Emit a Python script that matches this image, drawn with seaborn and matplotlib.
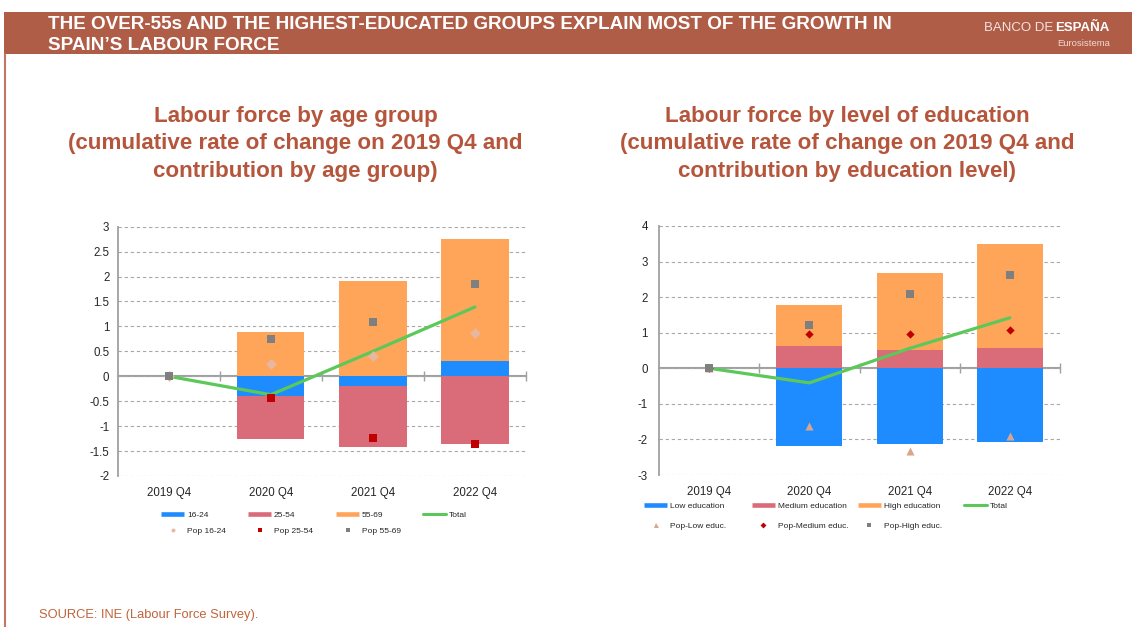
import numpy as np
import pandas as pd
import matplotlib
matplotlib.use("Agg")
import matplotlib.pyplot as plt
import seaborn as sns
from matplotlib.lines import Line2D
from matplotlib.patches import Rectangle
from matplotlib import font_manager

# ---------------- data ----------------
quarters = ["2019 Q4", "2020 Q4", "2021 Q4", "2022 Q4"]

# Left panel: contributions by age group (pp)
age_16_24 = [0.0, -0.40, -0.19, 0.30]
age_25_54 = [0.0, -0.86, -1.23, -1.36]
age_55_69 = [0.0, 0.89, 1.92, 2.45]
age_total = [0.0, -0.37, 0.50, 1.39]
pop_16_24 = [0.0, 0.25, 0.40, 0.87]
pop_25_54 = [0.0, -0.44, -1.23, -1.36]
pop_55_69 = [0.0, 0.74, 1.08, 1.85]

# Right panel: contributions by education level (pp)
edu_low = [0.0, -2.19, -2.12, -2.07]
edu_medium = [0.0, 0.63, 0.51, 0.58]
edu_high = [0.0, 1.15, 2.17, 2.90]
edu_total = [0.0, -0.41, 0.56, 1.42]
pop_low = [0.0, -1.63, -2.33, -1.91]
pop_medium = [0.0, 0.95, 0.95, 1.07]
pop_high = [0.0, 1.22, 2.10, 2.62]

left_yticks = [-2, -1.5, -1, -0.5, 0, 0.5, 1, 1.5, 2, 2.5, 3]
right_yticks = [-3, -2, -1, 0, 1, 2, 3, 4]

age_labels = ["16-24", "25-54", "55-69", "Total"]
age_pop_labels = ["Pop 16-24", "Pop 25-54", "Pop 55-69"]
edu_labels = ["Low education", "Medium education", "High education", "Total"]
edu_pop_labels = ["Pop-Low educ.", "Pop-Medium educ.", "Pop-High educ."]

header_lines = ["THE OVER-55s AND THE HIGHEST-EDUCATED GROUPS EXPLAIN MOST OF THE GROWTH IN",
                "SPAIN\u2019S LABOUR FORCE"]
left_title = ["Labour force by age group",
              "(cumulative rate of change on 2019 Q4 and",
              "contribution by age group)"]
right_title = ["Labour force by level of education",
               "(cumulative rate of change on 2019 Q4 and",
               "contribution by education level)"]
source_text = "SOURCE: INE (Labour Force Survey)."

# ---------------- style ----------------
BLUE = "#1E8CFF"
RED = "#DA6B78"
ORANGE = "#FFA55A"
GREEN = "#5CC85A"
GREY_SQ = "#7F7F7F"
DARK_RED = "#C00000"
PEACH = "#E6B8A2"
TAN = "#D9A58C"
BRICK = "#B05D48"
TITLE_C = "#B5563C"
AXIS_GREY = "#A0A0A0"

sns.set_theme(style="white")
plt.rcParams['font.family'] = ['Liberation Sans', 'DejaVu Sans']

available = {f.name for f in font_manager.fontManager.ttflist}
if 'Liberation Sans Narrow' in available:
    leg_prop = font_manager.FontProperties(family='Liberation Sans Narrow', size=6.7)
else:
    leg_prop = font_manager.FontProperties(family='Liberation Sans', size=6.0)

W, H = 1132, 627
fig = plt.figure(figsize=(W / 100, H / 100), dpi=100)
fig.patch.set_facecolor("white")


def fx(px):
    return px / W


def fy(py):
    return 1 - py / H


def draw_panel(ax, series, colors, total, pops, pop_styles, ylim, yticks, ypad):
    n = len(quarters)
    pos = np.arange(n)
    pos_base = np.zeros(n)
    neg_base = np.zeros(n)
    for vals, col in zip(series, colors):
        v = np.asarray(vals, float)
        bottom = np.where(v >= 0, pos_base, neg_base)
        df = pd.DataFrame({"quarter": quarters, "value": v})
        sns.barplot(data=df, x="quarter", y="value", bottom=bottom, color=col,
                    saturation=1, width=0.66, errorbar=None, ax=ax,
                    linewidth=0, zorder=2)
        pos_base = pos_base + np.where(v > 0, v, 0)
        neg_base = neg_base + np.where(v < 0, v, 0)

    sns.lineplot(x=pos, y=total, color=GREEN, linewidth=2.3, ax=ax, zorder=3,
                 legend=False)
    for vals, (mk, col, s) in zip(pops, pop_styles):
        sns.scatterplot(x=pos, y=vals, marker=mk, color=col, s=s, linewidth=0,
                        ax=ax, zorder=4, legend=False)

    ax.set_xlim(-0.5, n - 0.5)
    ax.set_ylim(*ylim)
    ax.set_xlabel("")
    ax.set_ylabel("")
    ax.set_xticks(pos)
    ax.set_xticklabels(quarters)
    ax.set_yticks(yticks)
    ax.set_yticklabels([f"{t:g}" for t in yticks])
    ax.tick_params(axis='y', length=0, pad=ypad, labelsize=8.3, labelcolor="#262626")
    ax.tick_params(axis='x', length=0, pad=8, labelsize=8.3, labelcolor="#262626")
    for side in ["top", "right", "bottom"]:
        ax.spines[side].set_visible(False)
    ax.spines["left"].set_color(AXIS_GREY)
    ax.spines["left"].set_linewidth(1.3)
    ax.yaxis.grid(True, linestyle=(0, (3, 2.5)), color="#A8A8A8", linewidth=0.8)
    ax.xaxis.grid(False)
    ax.set_axisbelow(True)

    zero_frac = (0 - ylim[0]) / (ylim[1] - ylim[0])
    sec = ax.secondary_xaxis(zero_frac)
    sec.set_xticks(np.arange(n) + 0.5)
    sec.tick_params(direction='inout', length=7, width=1.0, color=AXIS_GREY,
                    labelbottom=False, labeltop=False)
    for sp in sec.spines.values():
        sp.set_color(AXIS_GREY)
        sp.set_linewidth(1.5)


# ---------------- header ----------------
fig.add_artist(Rectangle((fx(4.3), fy(54.3)), 1 - fx(4.3), (54.3 - 12.3) / H,
                         transform=fig.transFigure, facecolor=BRICK, edgecolor="none"))
fig.add_artist(Line2D([fx(5.3), fx(5.3)], [fy(54.3), 0], transform=fig.transFigure,
                      color="#C47664", linewidth=1.5))
for txt, base in zip(header_lines, [29.3, 50.0]):
    fig.text(fx(48.3), fy(base), txt, color="white", fontsize=13.6,
             fontweight="bold", va="baseline", ha="left")
fig.text(fx(1110), fy(31), "ESPAÑA", color="white", fontsize=9.5,
         fontweight="bold", va="baseline", ha="right")
fig.text(fx(1053), fy(31), "BANCO DE", color="#F3E3DE", fontsize=9.5,
         va="baseline", ha="right")
fig.text(fx(1110), fy(46), "Eurosistema", color="#F0D9D2", fontsize=6.8,
         va="baseline", ha="right")

# ---------------- titles ----------------
for txt, base in zip(left_title, [121.7, 149.3, 176.5]):
    fig.text(fx(295.5), fy(base), txt, color=TITLE_C, fontsize=16.1,
             fontweight="bold", va="baseline", ha="center")
for txt, base in zip(right_title, [121.7, 149.3, 176.5]):
    fig.text(fx(847), fy(base), txt, color=TITLE_C, fontsize=16.1,
             fontweight="bold", va="baseline", ha="center")

# ---------------- panels ----------------
axL = fig.add_axes([fx(117.7), fy(476), (526 - 117.7) / W, (476 - 226.7) / H])
draw_panel(axL, [age_16_24, age_25_54, age_55_69], [BLUE, RED, ORANGE], age_total,
           [pop_16_24, pop_25_54, pop_55_69],
           [("D", PEACH, 30), ("s", DARK_RED, 30), ("s", GREY_SQ, 30)],
           (-2, 3), left_yticks, 6)

axR = fig.add_axes([fx(659), fy(475), (1060 - 659) / W, (475 - 226) / H])
draw_panel(axR, [edu_low, edu_medium, edu_high], [BLUE, RED, ORANGE], edu_total,
           [pop_low, pop_medium, pop_high],
           [("^", TAN, 34), ("D", DARK_RED, 18), ("s", GREY_SQ, 30)],
           (-3, 4), right_yticks, 8)

# ---------------- legends ----------------
fs_px = leg_prop.get_size_in_points() * 100 / 72


def legend_item(handle, label, x_px, y_px):
    fig.legend(handles=[handle], labels=[label], loc="center left",
               bbox_to_anchor=(fx(x_px), fy(y_px)), frameon=False,
               borderpad=0, borderaxespad=0, handlelength=23 / fs_px,
               handletextpad=3 / fs_px, prop=leg_prop, labelcolor="#262626")


def bar_handle(c):
    return Line2D([], [], color=c, linewidth=3.3, solid_capstyle="butt")


def mark_handle(m, c, ms):
    return Line2D([], [], linestyle="none", marker=m, color=c, markersize=ms,
                  markeredgewidth=0)


left_handles = [bar_handle(BLUE), bar_handle(RED), bar_handle(ORANGE),
                Line2D([], [], color=GREEN, linewidth=2.2)]
for h, lab, x in zip(left_handles, age_labels, [161, 248, 336, 423]):
    legend_item(h, lab, x, 515)
left_mh = [mark_handle("o", PEACH, 2.8), mark_handle("s", DARK_RED, 3.4),
           mark_handle("s", GREY_SQ, 3.4)]
for h, lab, x in zip(left_mh, age_pop_labels, [161, 248, 336]):
    legend_item(h, lab, x, 531)

right_handles = [bar_handle(BLUE), bar_handle(RED), bar_handle(ORANGE),
                 Line2D([], [], color=GREEN, linewidth=2.2)]
for h, lab, x in zip(right_handles, edu_labels, [644, 752, 858, 964]):
    legend_item(h, lab, x, 506)
right_mh = [mark_handle("^", TAN, 3.6), mark_handle("D", DARK_RED, 3.0),
            mark_handle("s", GREY_SQ, 3.4)]
for h, lab, x in zip(right_mh, edu_pop_labels, [644, 752, 858]):
    legend_item(h, lab, x, 526)

# ---------------- source ----------------
fig.text(fx(39), fy(618.3), source_text, color="#C0643C", fontsize=9.3,
         va="baseline", ha="left")

fig.savefig("out.png", dpi=100)
